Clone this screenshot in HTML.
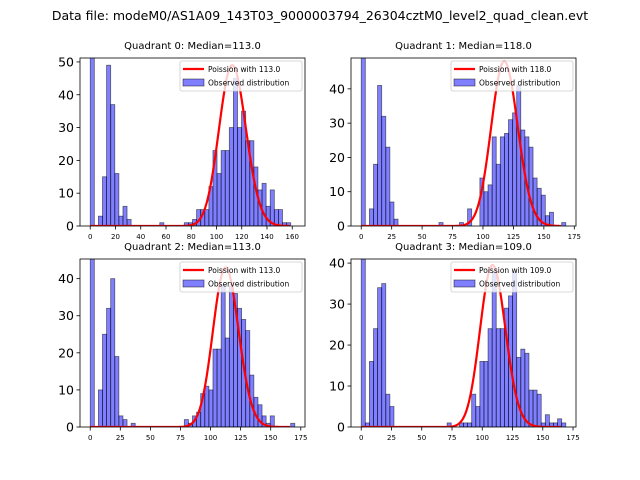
<!DOCTYPE html>
<html><head><meta charset="utf-8"><style>
html,body{margin:0;padding:0;background:#fff;width:640px;height:480px;overflow:hidden}
svg text{font-family:"DejaVu Sans","Liberation Sans",sans-serif}
</style></head><body>
<svg id="fig" width="640" height="480" viewBox="0 0 640 480" xmlns="http://www.w3.org/2000/svg">
<rect width="640" height="480" fill="#fff"/>
<text x="320" y="20" font-size="12.5" text-anchor="middle">Data file: modeM0/AS1A09_143T03_9000003794_26304cztM0_level2_quad_clean.evt</text>
</svg>
<script>
const titles = ["Quadrant 0: Median=113.0","Quadrant 1: Median=118.0","Quadrant 2: Median=113.0","Quadrant 3: Median=109.0"];
const medians = [113, 118, 113, 109];
const binWidths = [3.24, 3.36, 3.4, 3.38];
const curvePeaks = [49, 48, 43, 39.5];
const yMaxes = [51.2, 49, 45.3, 41];
const yTicks0 = [0,10,20,30,40,50];
const yTicks1 = [0,10,20,30,40];
const xTicks0 = [0,20,40,60,80,100,120,140,160];
const xTicks1 = [0,25,50,75,100,125,150,175];
const counts0 = [55,0,3,15,49,37,16,3,6,2, 0,0,0,0,0,0,0,1,0,0, 0,0,0,1,1,2,5,5,5,12, 23,16,23,23,30,45,30,35,26,26, 18,11,13,6,11,5,5,1,1,0];
const counts1 = [52,0,5,18,41,32,23,7,2,0, 0,0,0,0,0,0,0,0,0,1, 0,0,0,0,1,0,5,0,0,14, 10,12,26,18,26,27,31,33,41,28, 26,23,14,11,9,3,4,0,0,1];
const counts2 = [48,0,10,25,32,40,19,3,2,0, 1,0,0,0,0,0,0,0,0,0, 0,0,0,2,1,3,4,9,11,10, 21,21,38,24,38,36,32,29,26,14, 8,6,3,1,3,0,0,0,0,1];
const counts3 = [44,1,16,24,34,35,8,5,0,0, 0,0,0,0,0,0,0,0,0,0, 0,1,0,0,1,1,1,8,5,16, 16,24,38,24,24,29,32,38,17,19, 18,9,9,8,1,3,1,1,2,1];
const allCounts = [counts0, counts1, counts2, counts3];
const layout = [[80,58],[351,58],[80,259],[351,259]];
const AW = 225, AH = 168;
const NS = "http://www.w3.org/2000/svg";
const fig = document.getElementById('fig');
function mk(tag, attrs, parent){const e=document.createElementNS(NS,tag);for(const k in attrs)e.setAttribute(k,attrs[k]);(parent||fig).appendChild(e);return e;}
function poissonLog(k, mu){let lf=0;for(let i=2;i<=k;i++)lf+=Math.log(i);return k*Math.log(mu)-mu-lf;}

for(let q=0;q<4;q++){
  const [x0,y0]=layout[q];
  const counts=allCounts[q], bw=binWidths[q];
  const xmax=counts.length*bw, span=xmax;
  const xl=-0.05*span, xr=xmax+0.05*span;
  const ymax=yMaxes[q];
  const sx=v=>x0+(v-xl)/(xr-xl)*AW;
  const sy=v=>y0+AH-(v/ymax)*AH;
  const g=mk('g',{});
  
  
  const clipId='clip'+q;
  const cp=mk('clipPath',{id:clipId},g);
  mk('rect',{x:x0,y:y0,width:AW,height:AH},cp);
  const t=mk('text',{x:x0+AW/2,y:y0-9,'font-size':'10','text-anchor':'middle'},g);
  t.textContent=titles[q];
  
  
  const bars=mk('g',{'clip-path':'url(#'+clipId+')'},g);
  counts.forEach((c,i)=>{
    if(c<=0)return;
    const r=mk('rect',{x:sx(i*bw),y:sy(c),width:sx((i+1)*bw)-sx(i*bw),height:sy(0)-sy(c),fill:'rgba(0,0,255,0.5)',stroke:'rgba(0,0,0,0.55)','stroke-width':'0.8'},bars);
    
    
  });
  const mu=medians[q], peakLog=poissonLog(Math.floor(mu),mu);
  let d='';
  const kmax=Math.floor(xmax-bw);
  for(let k=0;k<=kmax;k++){const v=curvePeaks[q]*Math.exp(poissonLog(k,mu)-peakLog);d+=(k?'L':'M')+sx(k).toFixed(2)+','+sy(v).toFixed(2);}
  const path=mk('path',{d:d,fill:'none',stroke:'red','stroke-width':'2.2','stroke-linejoin':'round'},bars);
  
  
  const frame=mk('rect',{x:x0,y:y0,width:AW,height:AH,fill:'none',stroke:'#000','stroke-width':'0.8'},g);
  
  
  const yt=q===0?yTicks0:yTicks1;
  yt.forEach(v=>{
    mk('line',{x1:x0-3.5,x2:x0,y1:sy(v),y2:sy(v),stroke:'#000','stroke-width':'0.8'},g);
    const l=mk('text',{x:x0-6,y:sy(v)+4.5,'font-size':'12.5','text-anchor':'end'},g);
    l.textContent=v;
    
    
  });
  const xt=q===0?xTicks0:xTicks1;
  xt.forEach(v=>{
    mk('line',{x1:sx(v),x2:sx(v),y1:y0+AH,y2:y0+AH+3.5,stroke:'#000','stroke-width':'0.8'},g);
    const l=mk('text',{x:sx(v),y:y0+AH+13,'font-size':'7','text-anchor':'middle'},g);
    l.textContent=v;
    
    
  });
  const lg=mk('g',{},g);
  
  
  const lx=x0+AW-125, ly=y0+3;
  mk('rect',{x:lx,y:ly,width:122,height:30,fill:'rgba(255,255,255,0.8)',stroke:'#ccc','stroke-width':'0.8',rx:'2'},lg);
  mk('line',{x1:lx+3,x2:lx+24,y1:ly+8,y2:ly+8,stroke:'red','stroke-width':'2.2'},lg);
  const t1=mk('text',{x:lx+28,y:ly+11,'font-size':'7.5'},lg);
  t1.textContent='Poission with '+medians[q].toFixed(1);
  
  
  mk('rect',{x:lx+3,y:ly+18,width:21,height:7,fill:'rgba(0,0,255,0.5)',stroke:'rgba(0,0,0,0.55)','stroke-width':'0.8'},lg);
  const t2=mk('text',{x:lx+28,y:ly+24.5,'font-size':'7.5'},lg);
  t2.textContent='Observed distribution';
  
  
}
</script>
</body></html>
